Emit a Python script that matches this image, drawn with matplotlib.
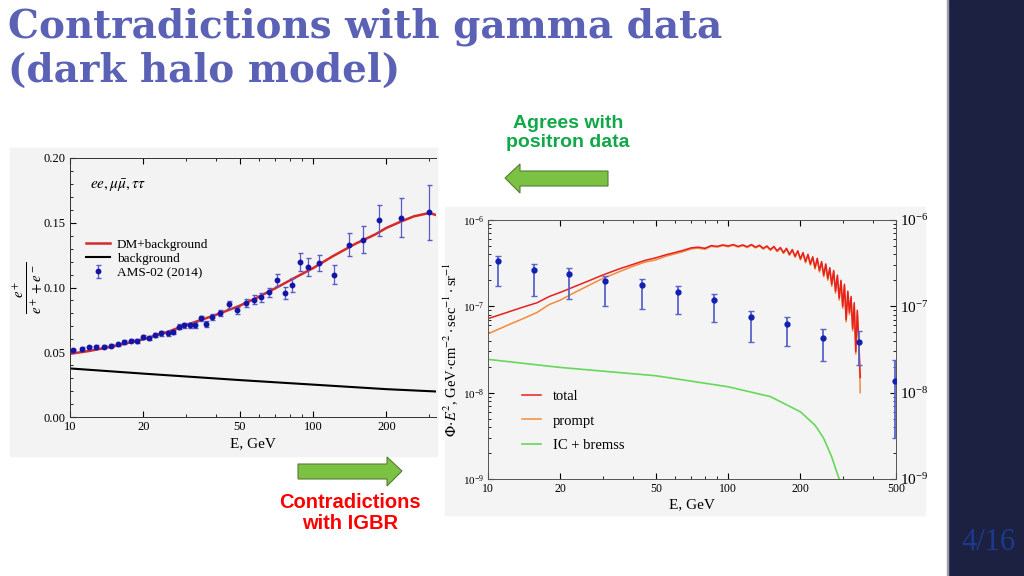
import matplotlib
matplotlib.use('Agg')
import matplotlib.pyplot as plt
from matplotlib.patches import Rectangle, Polygon
from matplotlib.ticker import FixedLocator, FixedFormatter, NullFormatter, MultipleLocator, LogLocator

plt.rcParams['font.family'] = ['Liberation Serif', 'DejaVu Serif']
plt.rcParams['mathtext.fontset'] = 'stix'

# ---- left panel: positron fraction ----
ams_E = [10.3, 11.2, 12.0, 12.8, 13.8, 14.7, 15.7, 16.7, 17.8, 18.8, 19.9, 21.1,
         22.3, 23.6, 25.2, 26.6, 28.0, 29.5, 31.2, 32.8, 34.5, 36.3, 38.5, 41.5,
         45.0, 48.6, 52.8, 57.0, 61.0, 66.1, 70.8, 76.4, 82.2, 88.4, 95.2, 106,
         122, 140, 160, 187, 229, 300]
ams_frac = [0.0514, 0.0527, 0.0540, 0.0542, 0.0542, 0.0550, 0.0560, 0.0578, 0.0590,
            0.0586, 0.0617, 0.0607, 0.0635, 0.0645, 0.0645, 0.0656, 0.0697, 0.0707,
            0.0707, 0.0712, 0.0761, 0.0717, 0.0774, 0.0802, 0.0869, 0.0825, 0.0879,
            0.0907, 0.0923, 0.0964, 0.1060, 0.0956, 0.1020, 0.1200, 0.1160, 0.1190,
            0.1100, 0.1330, 0.1370, 0.1520, 0.1540, 0.1580]
ams_err = [0.0012, 0.0012, 0.0012, 0.0012, 0.0012, 0.0013, 0.0013, 0.0014, 0.0014,
           0.0015, 0.0015, 0.0016, 0.0016, 0.0017, 0.0018, 0.0018, 0.0019, 0.0020,
           0.0020, 0.0021, 0.0022, 0.0023, 0.0024, 0.0025, 0.0027, 0.0028, 0.0030,
           0.0032, 0.0034, 0.0036, 0.0046, 0.0045, 0.0055, 0.0070, 0.0070, 0.0060,
           0.0070, 0.0090, 0.0105, 0.0120, 0.0150, 0.0210]

dm_E = [10, 12, 15, 18, 20, 25, 30, 40, 50, 60, 70, 85, 100, 120, 150, 180, 200,
        230, 260, 300, 320]
dm_frac = [0.0488, 0.0510, 0.0545, 0.0580, 0.0600, 0.0655, 0.0710, 0.0790, 0.0860,
           0.0930, 0.0995, 0.1080, 0.1150, 0.1240, 0.1340, 0.1410, 0.1460, 0.1510,
           0.1550, 0.1575, 0.1560]

bg_E = [10, 20, 50, 100, 200, 320]
bg_frac = [0.0375, 0.0335, 0.0285, 0.0250, 0.0215, 0.0197]

# ---- right panel: gamma flux ----
igbr_E = [10.97, 15.5, 21.8, 30.8, 43.8, 62, 87.3, 124, 176, 249, 350, 494]
igbr_flux = [3.38e-7, 2.64e-7, 2.37e-7, 1.98e-7, 1.77e-7, 1.48e-7, 1.18e-7,
             7.46e-8, 6.25e-8, 4.26e-8, 3.86e-8, 1.38e-8]
igbr_hi = [3.87e-7, 3.06e-7, 2.76e-7, 2.24e-7, 2.05e-7, 1.70e-7, 1.38e-7,
           8.8e-8, 7.5e-8, 5.4e-8, 5.2e-8, 2.4e-8]
igbr_lo = [1.72e-7, 1.31e-7, 1.20e-7, 1.00e-7, 9.4e-8, 8.1e-8, 6.5e-8,
           3.9e-8, 3.5e-8, 2.3e-8, 2.1e-8, 3.0e-9]

# model curves, in units of 1e-7 (noisy Monte Carlo spectrum)
model_E = [10, 12, 14, 16, 18, 20, 23, 26, 30, 35, 40, 45, 50, 55, 60, 65, 70, 75,
           80, 85, 90, 95,
           100, 105, 110, 115, 120, 125, 130, 135, 140, 145, 150, 155, 160, 165,
           170, 175, 180, 185, 190, 195, 200, 205, 210, 215, 220, 225, 230, 235,
           240, 245, 250, 255, 260, 265, 270, 275, 280, 285, 290, 295, 300, 305,
           310, 315, 320, 325, 330, 335, 340, 345, 350, 355]
total_flux = [0.72, 0.85, 0.98, 1.10, 1.30, 1.45, 1.70, 1.95, 2.30, 2.70, 3.05, 3.40,
              3.65, 3.95, 4.20, 4.45, 4.75, 4.85, 4.70, 5.05, 4.95, 5.15,
              5.00, 5.20, 4.95, 5.15, 4.90, 5.20, 4.85, 5.10, 4.70, 5.00, 4.55, 4.95,
              4.40, 4.80, 4.20, 4.70, 4.00, 4.55, 3.80, 4.40, 3.55, 4.20, 3.30, 4.00,
              3.10, 3.75, 2.80, 3.60, 2.60, 3.30, 2.30, 3.10, 2.10, 2.80, 1.80, 2.60,
              1.50, 2.30, 1.25, 2.00, 1.00, 1.80, 0.70, 1.50, 0.85, 1.30, 0.55, 1.10,
              0.30, 0.90, 0.40, 0.15]
prompt_flux = [0.48, 0.60, 0.72, 0.85, 1.05, 1.18, 1.45, 1.72, 2.10, 2.50, 2.90, 3.25,
               3.45, 3.80, 4.05, 4.30, 4.62, 4.72, 4.58, 4.95, 4.85, 5.05,
               4.90, 5.10, 4.85, 5.05, 4.80, 5.10, 4.75, 5.00, 4.60, 4.90, 4.45, 4.85,
               4.30, 4.70, 4.10, 4.60, 3.90, 4.45, 3.70, 4.30, 3.45, 4.10, 3.20, 3.90,
               3.00, 3.65, 2.70, 3.50, 2.50, 3.20, 2.20, 3.00, 2.00, 2.70, 1.70, 2.50,
               1.42, 2.20, 1.18, 1.92, 0.95, 1.72, 0.66, 1.44, 0.80, 1.24, 0.52, 1.04,
               0.28, 0.85, 0.36, 0.10]
ic_E = [10, 20, 50, 100, 150, 200, 230, 250, 270, 280, 290]
ic_flux = [2.43e-8, 1.96e-8, 1.57e-8, 1.17e-8, 9.0e-9, 6.0e-9, 4.2e-9, 2.96e-9,
           1.8e-9, 1.33e-9, 1.0e-9]

W, H = 1024, 576
fig = plt.figure(figsize=(W / 100, H / 100), dpi=100)

# slide layer in pixel coordinates
bg = fig.add_axes([0, 0, 1, 1], zorder=0)
bg.set_xlim(0, W)
bg.set_ylim(H, 0)
bg.axis('off')
bg.add_patch(Rectangle((948, 0), 76, 576, color='#1c2141'))
bg.add_patch(Rectangle((947, 0), 1.2, 576, color='#9a9ea8'))
bg.add_patch(Rectangle((10, 148), 427, 308, color='#f3f3f3'))
bg.add_patch(Rectangle((445, 207), 480, 308, color='#f4f4f4'))

bg.text(8, 7, 'Contradictions with gamma data\n(dark halo model)', fontsize=28,
        fontweight='bold', color='#5b62b6', family='DejaVu Serif', va='top',
        linespacing=1.2)
bg.text(988, 543, '4/16', fontsize=22, color='#1c3a8c', ha='center', va='center')

bg.text(568, 133, 'Agrees with\npositron data', fontsize=14, fontweight='bold',
        color='#12a84a', family='Liberation Sans', ha='center', va='center',
        linespacing=1.1)
bg.text(350, 513, 'Contradictions\nwith IGBR', fontsize=14.5, fontweight='bold',
        color='#ff0000', family='Liberation Sans', ha='center', va='center',
        linespacing=1.1)

arrow_fc, arrow_ec = '#7cc242', '#5a7a3a'
bg.add_patch(Polygon([(505, 178), (520, 164), (520, 171), (608, 171), (608, 186),
                      (520, 186), (520, 193)], closed=True, fc=arrow_fc, ec=arrow_ec, lw=0.8))
bg.add_patch(Polygon([(402, 471), (387, 457), (387, 464), (298, 464), (298, 479),
                      (387, 479), (387, 486)], closed=True, fc=arrow_fc, ec=arrow_ec, lw=0.8))

# ---- left panel ----
ax1 = fig.add_axes([70 / W, 1 - 417 / H, 366 / W, 259 / H], zorder=1)
ax1.set_facecolor('#f3f3f3')
ax1.plot(dm_E, dm_frac, color='#d42a2a', lw=1.8, label='DM+background')
ax1.plot(bg_E, bg_frac, color='black', lw=1.5, label='background')
ax1.errorbar(ams_E, ams_frac, yerr=ams_err, fmt='o', ms=3.2, color='#1414a8',
             ecolor='#5a5ac8', elinewidth=0.9, capsize=1.8, label='AMS-02 (2014)')
ax1.set_xscale('log')
ax1.set_xlim(10, 320)
ax1.set_ylim(0, 0.2)
ax1.xaxis.set_major_locator(FixedLocator([10, 20, 50, 100, 200]))
ax1.xaxis.set_major_formatter(FixedFormatter(['10', '20', '50', '100', '200']))
ax1.xaxis.set_minor_formatter(NullFormatter())
ax1.yaxis.set_major_locator(MultipleLocator(0.05))
ax1.yaxis.set_minor_locator(MultipleLocator(0.01))
ax1.yaxis.set_major_formatter(plt.FuncFormatter(lambda v, p: '%.2f' % v))
ax1.tick_params(which='both', direction='in', top=True, labelsize=9, pad=3)
ax1.tick_params(which='major', length=4)
ax1.tick_params(which='minor', length=2)
ax1.spines['right'].set_visible(False)
for s in ax1.spines.values():
    s.set_color('#333333')
    s.set_linewidth(0.7)
ax1.set_xlabel('E, GeV', fontsize=11, labelpad=3)
ax1.set_ylabel(r'$\frac{e^+}{e^+ + e^-}$', fontsize=15)
ax1.yaxis.set_label_coords(-0.068, 0.5)
ax1.text(0.055, 0.88, r'$ee,\mu\bar{\mu},\tau\tau$', transform=ax1.transAxes, fontsize=11)
ax1.legend(loc='upper left', bbox_to_anchor=(0.03, 0.71), frameon=False, fontsize=9.5,
           handlelength=1.8, handletextpad=0.5, labelspacing=0.15, borderaxespad=0)

# ---- right panel ----
ax2 = fig.add_axes([488 / W, 1 - 479 / H, 408 / W, 259 / H], zorder=1)
ax2.set_facecolor('#f4f4f4')
ax2.plot(model_E, [v * 1e-7 for v in prompt_flux], color='#f08c3c', lw=1.1,
         label='prompt')
ax2.plot(model_E, [v * 1e-7 for v in total_flux], color='#e8201e', lw=1.1, label='total')
ax2.plot(ic_E, ic_flux, color='#66d85a', lw=1.2, label='IC + bremss')
yerr = [[f - lo for f, lo in zip(igbr_flux, igbr_lo)],
        [hi - f for f, hi in zip(igbr_flux, igbr_hi)]]
ax2.errorbar(igbr_E, igbr_flux, yerr=yerr, fmt='o', ms=3.5, color='#1020b0',
             ecolor='#5a64c8', elinewidth=1.3, capsize=2, zorder=5)
ax2.set_xscale('log')
ax2.set_yscale('log')
ax2.set_xlim(10, 500)
ax2.set_ylim(1e-9, 1e-6)
ax2.xaxis.set_major_locator(FixedLocator([10, 20, 50, 100, 200, 500]))
ax2.xaxis.set_major_formatter(FixedFormatter(['10', '20', '50', '100', '200', '500']))
ax2.xaxis.set_minor_formatter(NullFormatter())
ax2.yaxis.set_major_locator(LogLocator(base=10, numticks=10))
ax2.yaxis.set_minor_locator(LogLocator(base=10, subs=range(2, 10), numticks=10))
ax2.yaxis.set_minor_formatter(NullFormatter())
ax2.tick_params(which='both', direction='in', top=True, right=True, labelright=True,
                labelsize=8.5, pad=3)
ax2.tick_params(which='major', length=4)
ax2.tick_params(which='minor', length=2)
for t in ax2.yaxis.get_major_ticks():
    t.label1.set_fontsize(8)
    t.label2.set_fontsize(11)
for s in ax2.spines.values():
    s.set_color('#555555')
    s.set_linewidth(0.7)
ax2.set_xlabel('E, GeV', fontsize=11, labelpad=2)
ax2.set_ylabel(r'$\Phi\!\cdot\! E^2$, GeV$\cdot$cm$^{-2}\cdot$sec$^{-1}\cdot$sr$^{-1}$',
               fontsize=10.5, labelpad=2)
h, l = ax2.get_legend_handles_labels()
order = [1, 0, 2]
ax2.legend([h[i] for i in order], [l[i] for i in order], loc='lower left',
           bbox_to_anchor=(0.07, 0.08), frameon=False, fontsize=10.5, handlelength=1.3,
           handletextpad=0.8, labelspacing=0.8, borderaxespad=0)

fig.savefig('out.png', dpi=100)
